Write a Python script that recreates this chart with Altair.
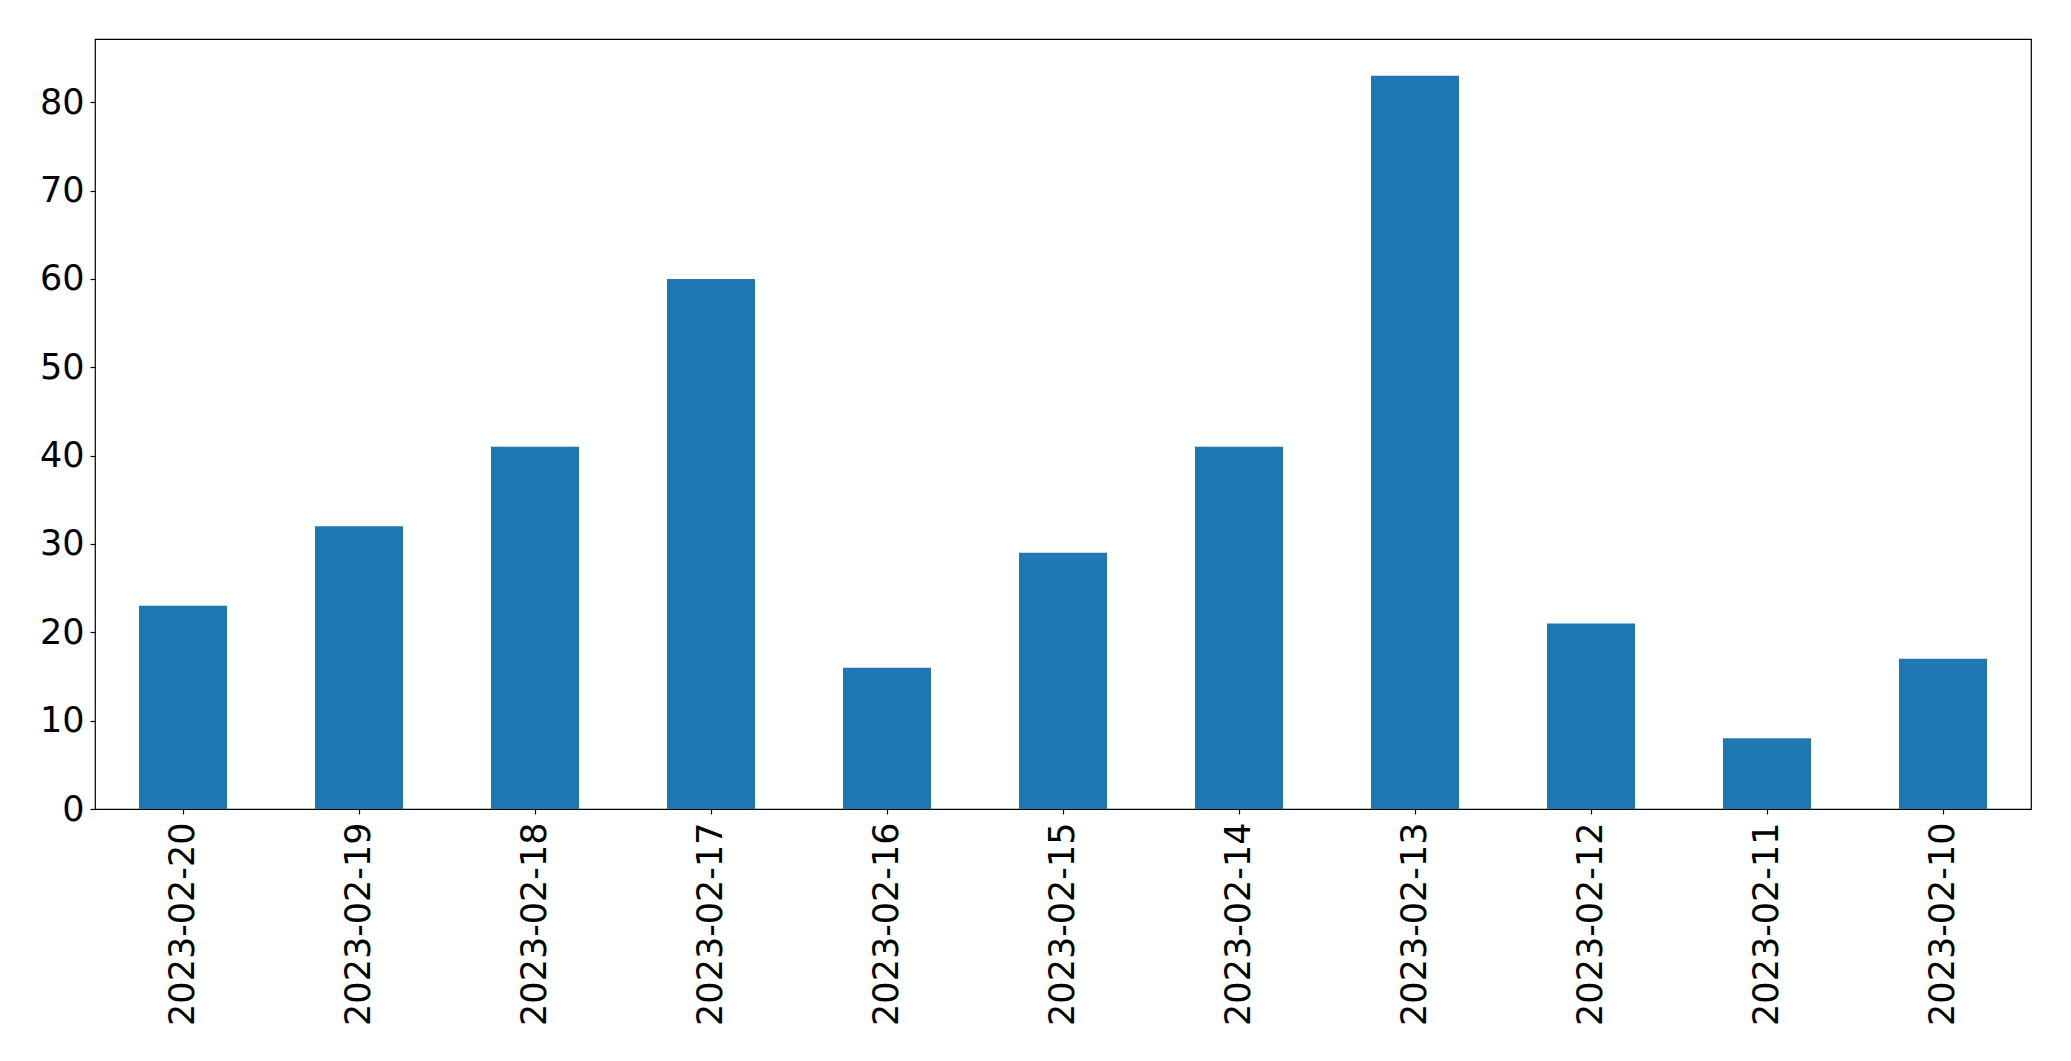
import altair as alt
import pandas as pd

dates = ["2023-02-20", "2023-02-19", "2023-02-18", "2023-02-17", "2023-02-16",
         "2023-02-15", "2023-02-14", "2023-02-13", "2023-02-12", "2023-02-11",
         "2023-02-10"]
counts = [23, 32, 41, 60, 16, 29, 41, 83, 21, 8, 17]
y_ticks = [0, 10, 20, 30, 40, 50, 60, 70, 80]

df = pd.DataFrame({"date": dates, "count": counts})

font = "DejaVu Sans"

chart = alt.Chart(df).mark_bar(color="#1f77b4").encode(
    x=alt.X("date:N", sort=dates, title=None,
            scale=alt.Scale(paddingInner=0.5, paddingOuter=0.25),
            axis=alt.Axis(labelAngle=270, labelFontSize=35, labelFont=font,
                          labelColor="black", tickColor="black", tickSize=5,
                          tickWidth=1.2, labelPadding=8, domain=False,
                          labelLimit=0,
                          labelBaseline="middle", labelAlign="right")),
    y=alt.Y("count:Q", title=None,
            scale=alt.Scale(domain=[0, 87.15], nice=False, zero=True),
            axis=alt.Axis(values=y_ticks, labelFontSize=35, labelFont=font,
                          labelColor="black", tickColor="black", tickSize=5,
                          tickWidth=1.2, labelPadding=6, domain=False,
                          grid=False)),
).properties(
    width=1936, height=770,
    autosize=alt.AutoSizeParams(type="none"),
    padding={"left": 87, "top": 31, "right": 32, "bottom": 220},
    background="white",
).configure_view(
    stroke="black", strokeWidth=1.2
)

chart.save("out.html", embed_options={"renderer": "svg", "actions": False})
